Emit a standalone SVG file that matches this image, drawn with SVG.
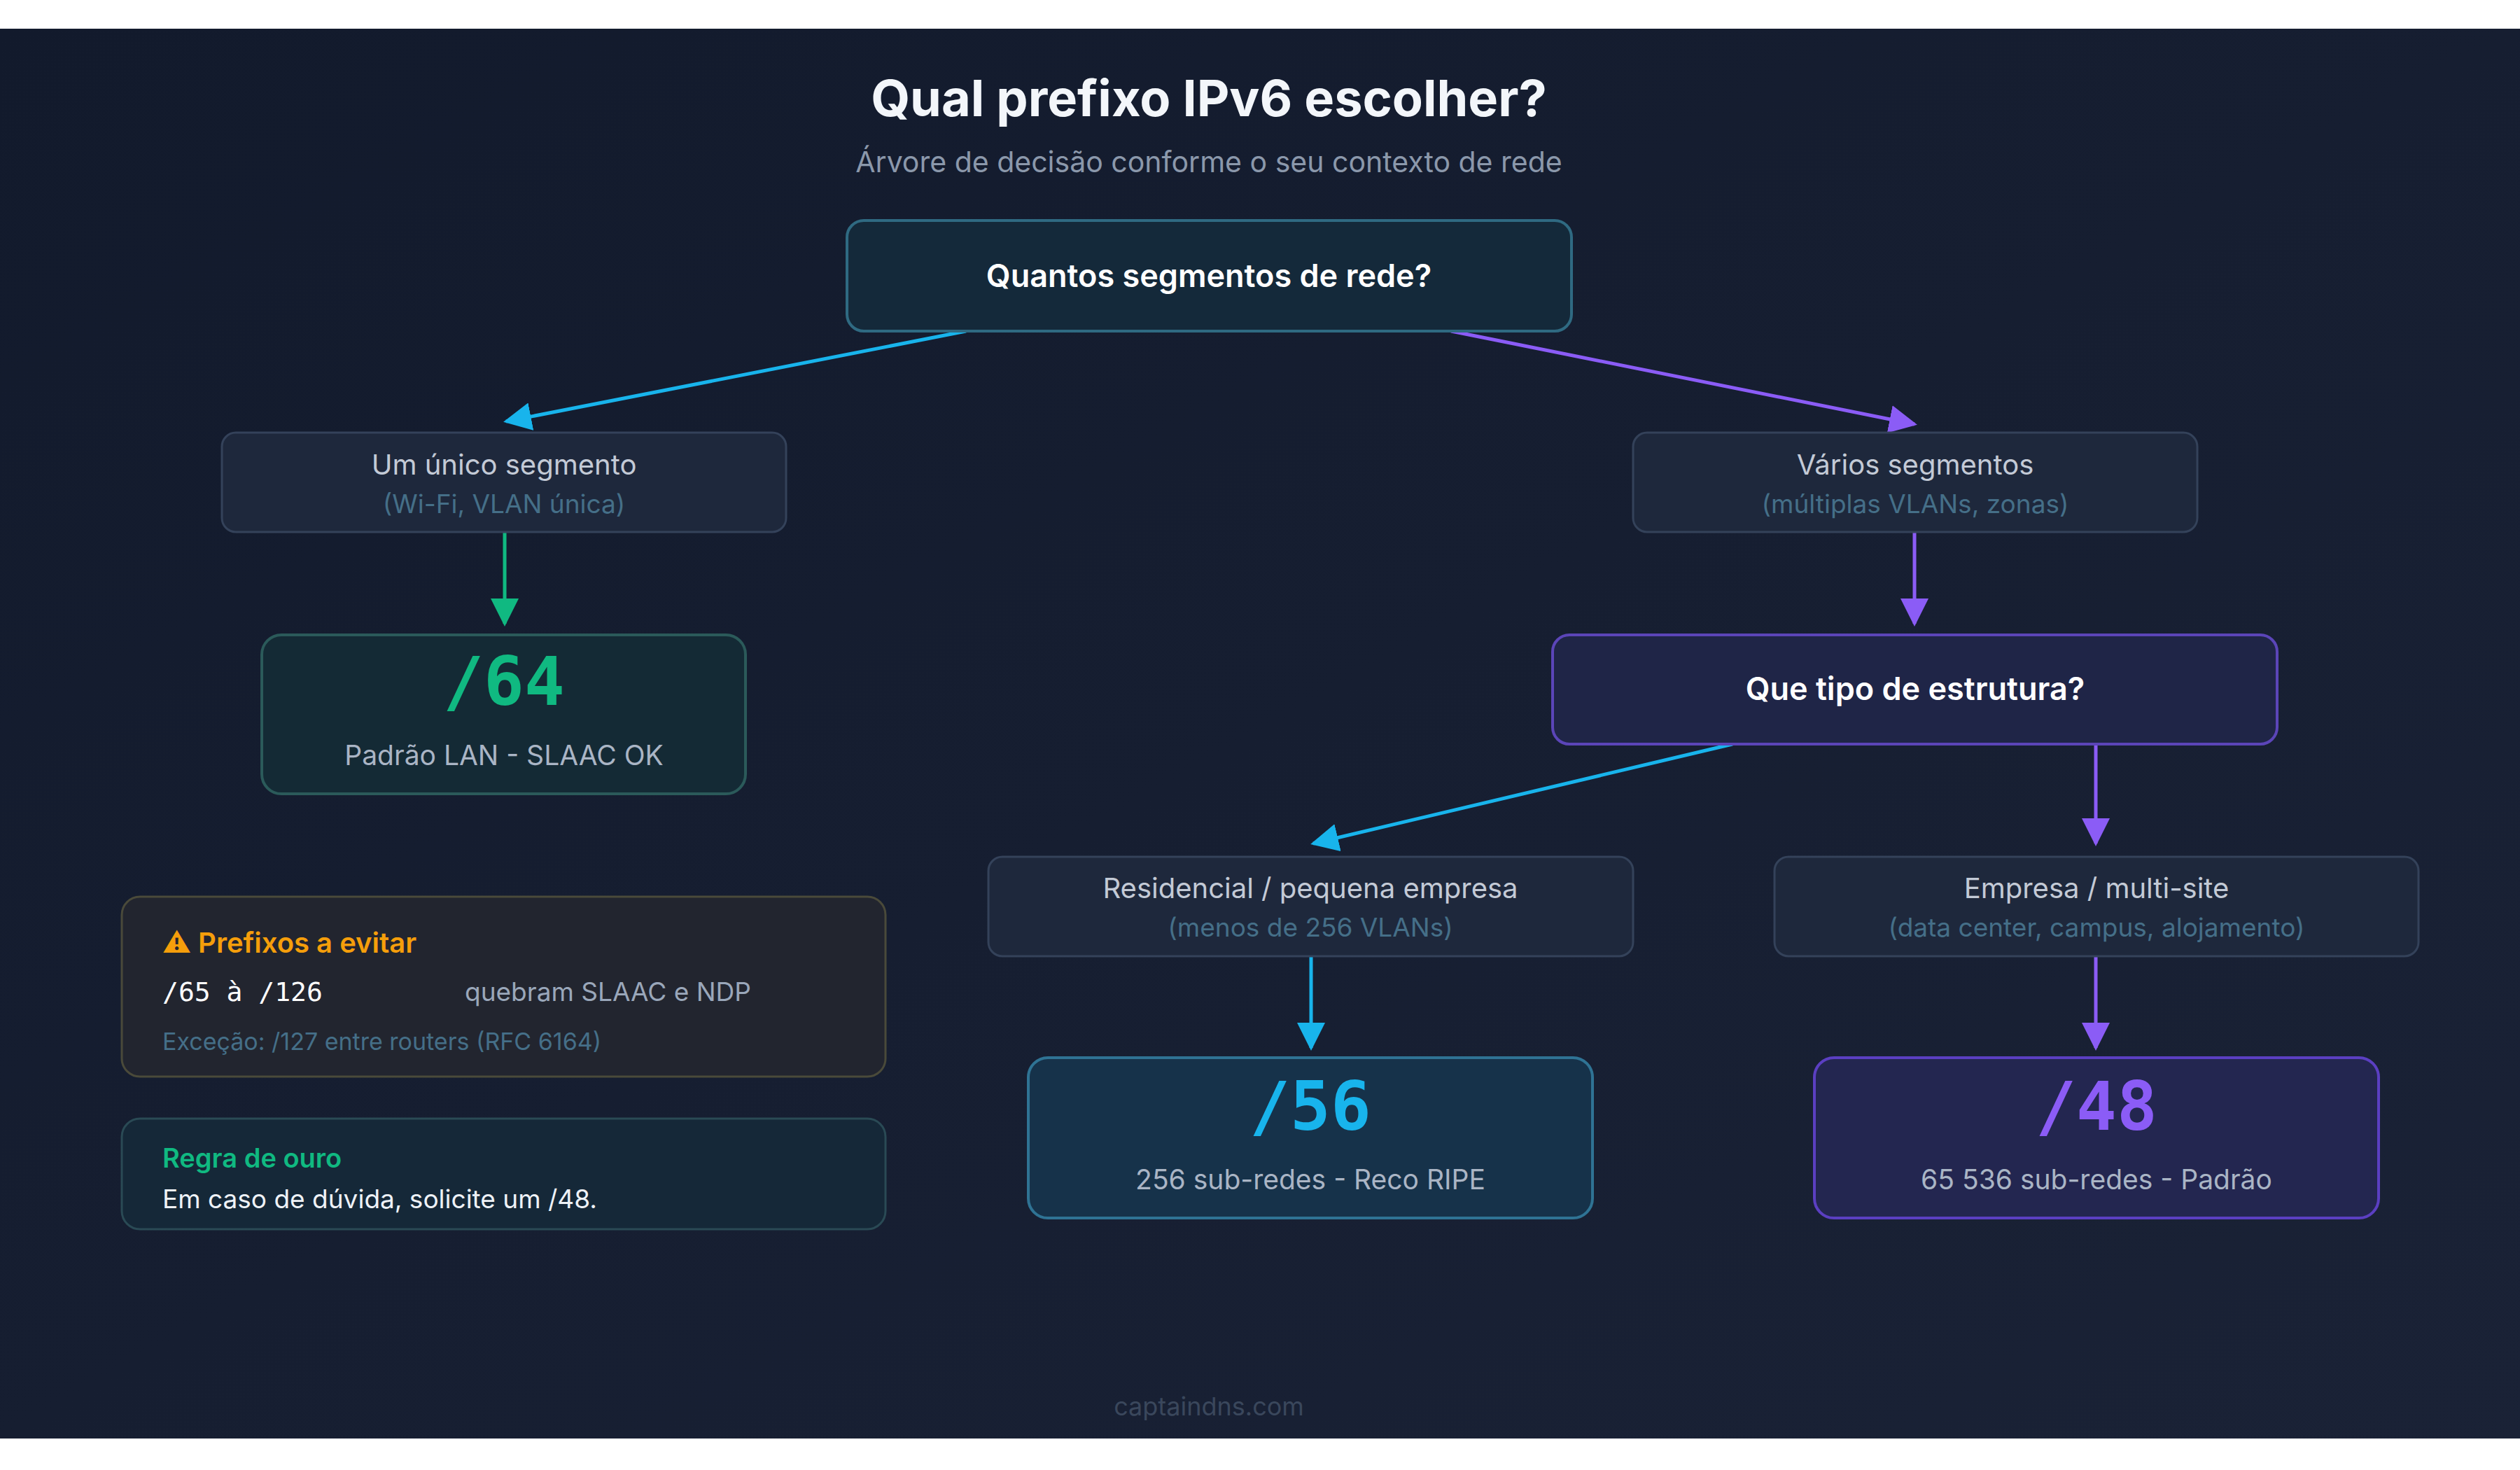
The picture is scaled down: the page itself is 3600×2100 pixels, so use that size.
<svg xmlns="http://www.w3.org/2000/svg" width="3600" height="2100" viewBox="0 0 3600 2100">
<defs>
<linearGradient id="bg" x1="0" y1="0" x2="1" y2="1"><stop offset="0" stop-color="#121a2c"/><stop offset="1" stop-color="#1a2236"/></linearGradient>
<marker id="aC" viewBox="0 0 10 10" refX="9" refY="5" markerWidth="8" markerHeight="8" orient="auto"><path d="M0,0 L10,5 L0,10 z" fill="#18b4ec"/></marker>
<marker id="aP" viewBox="0 0 10 10" refX="9" refY="5" markerWidth="8" markerHeight="8" orient="auto"><path d="M0,0 L10,5 L0,10 z" fill="#8b5cf6"/></marker>
<marker id="aG" viewBox="0 0 10 10" refX="9" refY="5" markerWidth="8" markerHeight="8" orient="auto"><path d="M0,0 L10,5 L0,10 z" fill="#10b981"/></marker>
</defs>
<style>
text{font-family:Inter,"Noto Sans",sans-serif;text-anchor:middle}
text.l{text-anchor:start}
.t1{fill:#c3cad6;font-size:40px}
.t2{fill:#456f88;font-size:37px}
.q{fill:#ffffff;font-size:45px;font-weight:600}
.big{font-family:"DejaVu Sans Mono","Liberation Mono",monospace;font-size:96px;font-weight:bold}
.sub{fill:#aab5c5;font-size:39px}
.mono{font-family:"DejaVu Sans Mono","Liberation Mono",monospace}
.mid{fill:#1e283c;stroke:#34425a;stroke-width:3}
</style>
<rect x="0" y="0" width="3600" height="2100" fill="#ffffff"/>
<rect x="0" y="41" width="3600" height="2014" fill="url(#bg)"/>
<text x="1727" y="166" fill="#f3f6fa" font-size="72" font-weight="700">Qual prefixo IPv6 escolher?</text>
<text x="1727" y="246" fill="#8b98ab" font-size="41">Árvore de decisão conforme o seu contexto de rede</text>

<g id="connectors" fill="none" stroke-width="5">
<line x1="1380" y1="473" x2="723" y2="602" stroke="#18b4ec" marker-end="url(#aC)"/>
<line x1="2073" y1="473" x2="2735" y2="606" stroke="#8b5cf6" marker-end="url(#aP)"/>
<line x1="721" y1="760" x2="721" y2="891" stroke="#10b981" marker-end="url(#aG)"/>
<line x1="2735" y1="760" x2="2735" y2="891" stroke="#8b5cf6" marker-end="url(#aP)"/>
<line x1="2475" y1="1063" x2="1876" y2="1205" stroke="#18b4ec" marker-end="url(#aC)"/>
<line x1="2994" y1="1063" x2="2994" y2="1205" stroke="#8b5cf6" marker-end="url(#aP)"/>
<line x1="1873" y1="1366" x2="1873" y2="1497" stroke="#18b4ec" marker-end="url(#aC)"/>
<line x1="2994" y1="1366" x2="2994" y2="1497" stroke="#8b5cf6" marker-end="url(#aP)"/>
</g>

<g id="root"><rect x="1210" y="315" width="1035" height="158" rx="24" fill="#14293a" stroke="#2f6a82" stroke-width="4"/><text class="q" x="1727" y="410">Quantos segmentos de rede?</text></g>
<g id="single"><rect class="mid" x="317" y="618" width="806" height="142" rx="20"/><text class="t1" x="720" y="678">Um único segmento</text><text class="t2" x="720" y="733">(Wi-Fi, VLAN única)</text></g>
<g id="multi"><rect class="mid" x="2333" y="618" width="806" height="142" rx="20"/><text class="t1" x="2736" y="678">Vários segmentos</text><text class="t2" x="2736" y="733">(múltiplas VLANs, zonas)</text></g>
<g id="p64"><rect x="374" y="907" width="691" height="227" rx="28" fill="#142a35" stroke="#2b5a5a" stroke-width="4"/><text class="big" x="720" y="1007" fill="#10b981">/64</text><text class="sub" x="720" y="1093">Padrão LAN - SLAAC OK</text></g>
<g id="estrutura"><rect x="2218" y="907" width="1035" height="156" rx="24" fill="#1f2547" stroke="#5b45b8" stroke-width="4"/><text class="q" x="2736" y="1000">Que tipo de estrutura?</text></g>
<g id="resid"><rect class="mid" x="1412" y="1224" width="921" height="142" rx="20"/><text class="t1" x="1872" y="1283">Residencial / pequena empresa</text><text class="t2" x="1872" y="1338">(menos de 256 VLANs)</text></g>
<g id="empresa"><rect class="mid" x="2535" y="1224" width="920" height="142" rx="20"/><text class="t1" x="2995" y="1283">Empresa / multi-site</text><text class="t2" x="2995" y="1338">(data center, campus, alojamento)</text></g>
<g id="p56"><rect x="1469" y="1511" width="806" height="229" rx="28" fill="#16324a" stroke="#2f7394" stroke-width="4"/><text class="big" x="1872" y="1614" fill="#18b4ec">/56</text><text class="sub" x="1872" y="1699">256 sub-redes - Reco RIPE</text></g>
<g id="p48"><rect x="2592" y="1511" width="806" height="229" rx="28" fill="#232650" stroke="#5b3fc2" stroke-width="4"/><text class="big" x="2995" y="1614" fill="#8b5cf6">/48</text><text class="sub" x="2995" y="1699">65 536 sub-redes - Padrão</text></g>
<g id="evitar"><rect x="174" y="1281" width="1091" height="257" rx="26" fill="#22252f" stroke="#4a4a3a" stroke-width="3"/>
<text class="l" x="232" y="1361" fill="#f59e0b" font-size="40" font-weight="600">⚠ Prefixos a evitar</text>
<text class="l mono" x="232" y="1430" fill="#ffffff" font-size="38">/65 à /126</text>
<text class="l" x="664" y="1430" fill="#9aa7ba" font-size="37">quebram SLAAC e NDP</text>
<text class="l" x="232" y="1500" fill="#456f88" font-size="34">Exceção: /127 entre routers (RFC 6164)</text></g>
<g id="regra"><rect x="174" y="1598" width="1091" height="158" rx="26" fill="#152838" stroke="#2a4a55" stroke-width="3"/>
<text class="l" x="232" y="1668" fill="#10b981" font-size="38" font-weight="600">Regra de ouro</text>
<text class="l" x="232" y="1726" fill="#eef2f7" font-size="37">Em caso de dúvida, solicite um /48.</text></g>
<text x="1727" y="2022" fill="#3a475c" font-size="36">captaindns.com</text>
</svg>
